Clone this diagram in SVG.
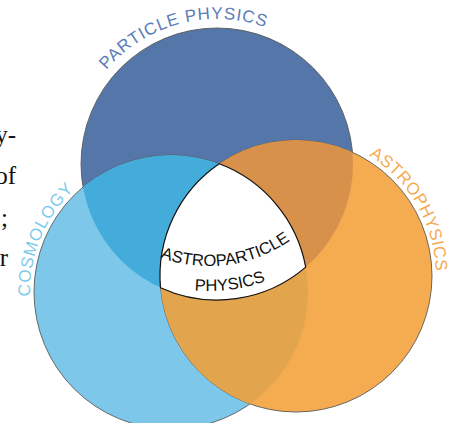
<svg xmlns="http://www.w3.org/2000/svg" width="449" height="423" viewBox="0 0 449 423">
<style>
.lbl{font-family:"Liberation Sans",Arial,sans-serif;font-size:17px;letter-spacing:0.9px}
.ctr{font-family:"Liberation Sans",Arial,sans-serif;font-size:16.5px;fill:#111}
.bg{font-family:"Liberation Serif","Times New Roman",serif;font-size:25px;fill:#111}
.edge{stroke:#5a5a5a;stroke-width:0.9}
</style>
<defs>
<clipPath id="clipL"><circle cx="171" cy="292" r="137"/></clipPath>
<clipPath id="clipR"><circle cx="296" cy="276" r="136"/></clipPath>
<path id="arcP" d="M85.6,102.7 A145,145 0 0 1 300.2,45.2" fill="none"/>
<path id="arcA" d="M318.0,136.8 A140,140 0 0 1 426.5,325.0" fill="none"/>
<path id="arcC" d="M45.9,357.1 A141,141 0 0 1 128.6,157.5" fill="none"/>
<path id="arcM1" d="M97.1,210.8 A141,141 0 0 0 339.3,179.0" fill="none"/>
<path id="arcM2" d="M77.3,226.1 A166,166 0 0 0 362.4,188.5" fill="none"/>
</defs>
<g id="margin-text">
<text class="bg" x="16" y="143" text-anchor="end">y-</text>
<text class="bg" x="16" y="184" text-anchor="end">of</text>
<text class="bg" x="8" y="226" text-anchor="end">;</text>
<text class="bg" x="8" y="266" text-anchor="end">r</text>
</g>
<g id="particle-physics">
<circle class="edge" cx="217" cy="164" r="136" fill="#5476a9"/>
<text class="lbl" fill="#5a7db8"><textPath href="#arcP" startOffset="50%" text-anchor="middle">PARTICLE PHYSICS</textPath></text>
</g>
<g id="cosmology">
<circle class="edge" cx="171" cy="292" r="137" fill="#7dc8ea"/>
<text class="lbl" fill="#7ecbeb"><textPath href="#arcC" startOffset="50%" text-anchor="middle">COSMOLOGY</textPath></text>
</g>
<g id="astrophysics">
<circle class="edge" cx="296" cy="276" r="136" fill="#f5ab50"/>
<text class="lbl" fill="#f5ab50" style="letter-spacing:0.5px"><textPath href="#arcA" startOffset="50%" text-anchor="middle">ASTROPHYSICS</textPath></text>
</g>
<g id="overlaps">
<circle cx="217" cy="164" r="136" fill="#43acda" clip-path="url(#clipL)"/>
<circle cx="217" cy="164" r="136" fill="#d8914a" clip-path="url(#clipR)"/>
<circle cx="171" cy="292" r="137" fill="#e2a54e" clip-path="url(#clipR)"/>
</g>
<g id="astroparticle-physics">
<path d="M219.2,163.8 A137,137 0 0 1 305.7,267.1 A136,136 0 0 1 160.5,287.7 A136,136 0 0 1 219.2,163.8 Z" fill="#fff" stroke="#111" stroke-width="1.2"/>
<text class="ctr"><textPath href="#arcM1" startOffset="50%" text-anchor="middle">ASTROPARTICLE</textPath></text>
<text class="ctr"><textPath href="#arcM2" startOffset="50%" text-anchor="middle">PHYSICS</textPath></text>
</g>
</svg>
